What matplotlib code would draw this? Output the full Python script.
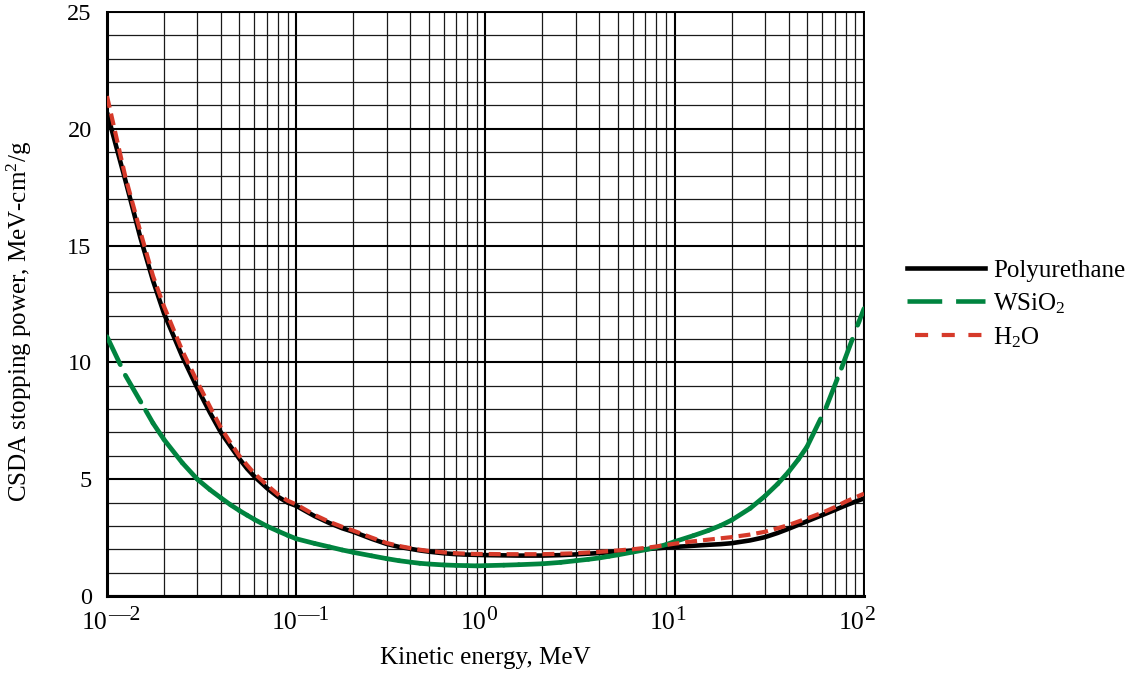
import numpy as np
import matplotlib
matplotlib.use('Agg')
import matplotlib.pyplot as plt
from matplotlib.collections import LineCollection
from matplotlib.lines import Line2D
from matplotlib.ticker import FixedLocator, NullFormatter

plt.rcParams['font.family'] = ['Liberation Serif', 'DejaVu Serif']
plt.rcParams['mathtext.fontset'] = 'custom'
plt.rcParams['mathtext.rm'] = 'Liberation Serif'
plt.rcParams['mathtext.it'] = 'Liberation Serif:italic'
plt.rcParams['mathtext.bf'] = 'Liberation Serif:bold'
plt.rcParams['lines.scale_dashes'] = False

# kinetic energy grid, MeV
energy = [0.01, 0.0125, 0.015, 0.0175, 0.02, 0.025, 0.03, 0.035, 0.04, 0.045,
          0.05, 0.055, 0.06, 0.07, 0.08, 0.09, 0.1, 0.125, 0.15, 0.175,
          0.2, 0.25, 0.3, 0.35, 0.4, 0.45, 0.5, 0.6, 0.7, 0.8,
          0.9, 1, 1.25, 1.5, 2, 2.5, 3, 4, 5, 6,
          7, 8, 10, 12.5, 15, 17.5, 20, 25, 30, 35,
          40, 50, 60, 70, 80, 90, 100]

# CSDA stopping power, MeV cm2/g
polyurethane = [20.7, 17.8, 15.35, 13.5, 12.1, 10.25, 8.9, 7.85, 7.0, 6.4,
                5.88, 5.45, 5.12, 4.62, 4.25, 4.0, 3.86, 3.42, 3.12, 2.9,
                2.75, 2.45, 2.23, 2.1, 2.02, 1.95, 1.9, 1.83, 1.79, 1.77,
                1.76, 1.75, 1.74, 1.73, 1.73, 1.75, 1.78, 1.84, 1.9, 1.95,
                2.0, 2.04, 2.1, 2.15, 2.19, 2.22, 2.26, 2.38, 2.52, 2.7,
                2.88, 3.2, 3.46, 3.68, 3.88, 4.04, 4.18]

water = [21.4, 17.95, 15.6, 13.7, 12.4, 10.5, 9.17, 8.1, 7.2, 6.55,
         6.0, 5.6, 5.25, 4.75, 4.35, 4.08, 3.92, 3.47, 3.17, 2.96,
         2.8, 2.5, 2.27, 2.14, 2.05, 1.98, 1.93, 1.87, 1.83, 1.81,
         1.8, 1.8, 1.79, 1.79, 1.79, 1.81, 1.83, 1.89, 1.95, 2.0,
         2.06, 2.12, 2.24, 2.34, 2.41, 2.47, 2.52, 2.63, 2.75, 2.9,
         3.04, 3.32, 3.56, 3.8, 4.04, 4.22, 4.38]

energy_wsio2 = [0.01, 0.0125, 0.016, 0.0175, 0.02, 0.025, 0.03, 0.035, 0.04, 0.045,
                0.05, 0.055, 0.06, 0.07, 0.08, 0.09, 0.1, 0.125, 0.15, 0.175,
                0.2, 0.25, 0.3, 0.35, 0.4, 0.45, 0.5, 0.6, 0.7, 0.8,
                0.9, 1, 1.25, 1.5, 2, 2.5, 3, 3.5, 4, 4.5,
                5, 6, 7, 8, 9, 10, 12.5, 15, 17.5, 20,
                25, 30, 35, 40, 45, 50, 63, 76, 94, 100]
wsio2 = [11.1, 9.45, 7.95, 7.4, 6.7, 5.7, 5.0, 4.55, 4.2, 3.9,
         3.66, 3.46, 3.28, 2.99, 2.78, 2.6, 2.45, 2.25, 2.1, 1.97,
         1.87, 1.72, 1.6, 1.51, 1.45, 1.4, 1.37, 1.33, 1.31, 1.3,
         1.29, 1.3, 1.32, 1.34, 1.38, 1.44, 1.51, 1.57, 1.63, 1.7,
         1.76, 1.88, 1.98, 2.09, 2.2, 2.33, 2.58, 2.8, 3.02, 3.25,
         3.75, 4.28, 4.8, 5.32, 5.85, 6.39, 8.06, 9.75, 11.74, 12.3]

xtick_vals = [1e-2, 1e-1, 1e0, 1e1, 1e2]
xtick_exps = ['—2', '—1', '0', '1', '2']

BLACK = '#000000'
GREEN = '#00843f'
RED = '#d63a2a'

fig = plt.figure(figsize=(11.33, 6.78), dpi=100)
ax = fig.add_axes([107 / 1133, 82 / 678, 757 / 1133, 584 / 678])
ax.set_xscale('log')
ax.set_xlim(0.01, 100)
ax.set_ylim(0, 25)

# grid: decades and multiples of 5 heavier
ax.xaxis.set_major_locator(FixedLocator(xtick_vals))
minor_x = [m * 10.0 ** p for p in range(-2, 2) for m in range(2, 10)]
ax.xaxis.set_minor_locator(FixedLocator(minor_x))
ax.xaxis.set_minor_formatter(NullFormatter())
ax.xaxis.set_major_formatter(NullFormatter())
ax.set_yticks(np.arange(0, 26, 5))
ax.set_yticks(np.arange(0, 26, 1), minor=True)
ax.grid(which='major', color='black', linewidth=1.5)
ax.grid(which='minor', color='#1a1a1a', linewidth=0.9)
ax.set_axisbelow(True)
ax.tick_params(which='both', length=0, labelsize=17.5)
ax.tick_params(axis='y', pad=11)
for side in ['top', 'right']:
    ax.spines[side].set_linewidth(1.4)
for side in ['left', 'bottom']:
    ax.spines[side].set_linewidth(2.2)

# decade labels: "10" ends at the tick, exponent set just after it
for v, e in zip(xtick_vals, xtick_exps):
    ax.annotate('10', xy=(v, 0), xycoords=('data', 'axes fraction'),
                xytext=(0.5, -11.5), textcoords='offset points',
                ha='right', va='top', fontsize=18.5)
    ax.annotate(e, xy=(v, 0), xycoords=('data', 'axes fraction'),
                xytext=(0.5, -7.5), textcoords='offset points',
                ha='left', va='top', fontsize=15.5)

ax.plot(energy, polyurethane, color=BLACK, linewidth=3.3, solid_capstyle='butt', zorder=3)

# WSiO2: dash pattern restarts on every segment
pts = np.column_stack([energy_wsio2, wsio2])
segs = np.stack([pts[:-1], pts[1:]], axis=1)
lc = LineCollection(segs, colors=GREEN, linewidths=3.4, linestyles=[(0, (22.3, 10.8))],
                    capstyle='round', zorder=4)
ax.add_collection(lc)

ax.plot(energy, water, color=RED, linewidth=3.0, linestyle=(0, (8.6, 4.3)),
        dash_capstyle='butt', zorder=5)

ax.set_xlabel('Kinetic energy, MeV', fontsize=18)
ax.xaxis.set_label_coords(0.5, -0.088)
ax.set_ylabel(r'CSDA stopping power, MeV-cm$^2$/g', fontsize=18)
ax.yaxis.set_label_coords(-0.096, 0.47)

handles = [
    Line2D([], [], color=BLACK, linewidth=3.3),
    Line2D([], [], color=GREEN, linewidth=3.3, linestyle=(0, (25, 10)), dash_capstyle='butt'),
    Line2D([], [], color=RED, linewidth=3.0, linestyle=(13.4, (9.4, 9.8)), dash_capstyle='butt'),
]
labels = ['Polyurethane', r'WSiO$_2$', r'H$_2$O']
fig.legend(handles, labels, loc='upper left', bbox_to_anchor=(907 / 1133, 1 - 259 / 678),
           frameon=False, fontsize=18, handlelength=3.1, handletextpad=0.35,
           labelspacing=0.38, borderpad=0, borderaxespad=0)

fig.savefig('out.png', dpi=100)
